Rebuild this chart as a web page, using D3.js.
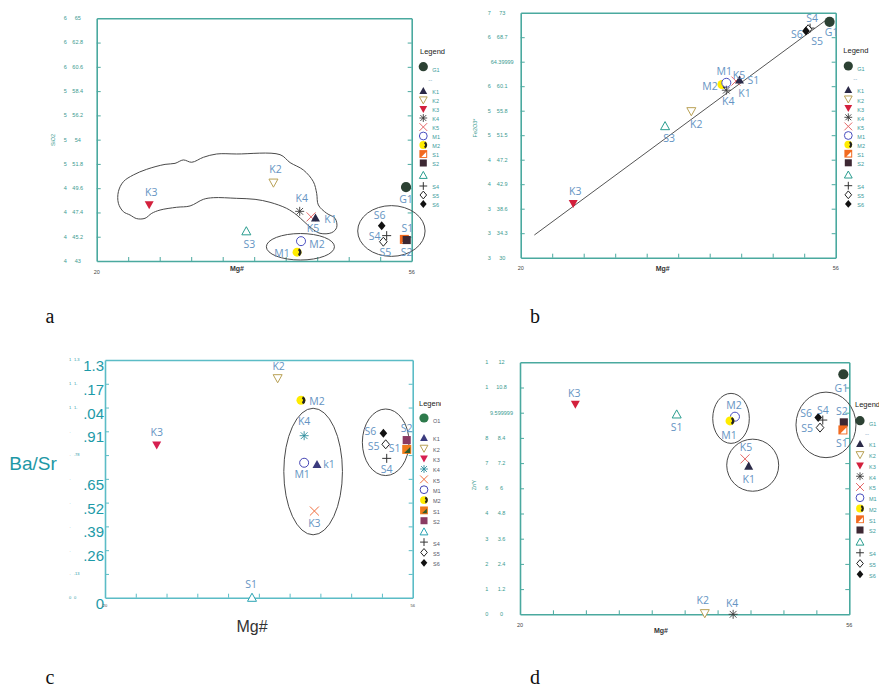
<!DOCTYPE html>
<html><head><meta charset="utf-8">
<script src="https://cdn.jsdelivr.net/npm/d3@7"></script>
<style>body{margin:0;background:#fff;} svg{display:block;}</style>
</head><body>
<svg id="chart" width="879" height="688"></svg>
<script>
// ---------------- DATA ----------------
const legendSymbols = ["K1","K2","K3","K4","K5","M1","M2","S1","S2","S3","S4","S5","S6"];
const legendLabels  = ["K1","K2","K3","K4","K5","M1","M2","S1","S2","","S4","S5","S6"];
const mgTicks = [20,23.6,27.2,30.8,34.4,38,41.6,45.2,48.8,52.4,56];
const mgTickLabels = ["20","56"];

// panel a: SiO2 vs Mg#
const sio2Ticks = [43,45.2,47.4,49.6,51.8,54,56.2,58.4,60.6,62.8,65];
const sio2TickLabels = ["43","45.2","47.4","49.6","51.8","54","56.2","58.4","60.6","62.8","65"];
const sio2TickPrefix = ["4","4","4","4","5","5","5","5","6","6","6"];
// [symbol, Mg#, SiO2, label]
const sio2Points = [
  ["K3",26.0,48.1,"K3"],["K2",40.2,50.1,"K2"],["K4",43.2,47.5,"K4"],["K5",44.5,47.0,"K5"],
  ["K1",45.0,46.9,"K1"],["S3",37.1,45.7,"S3"],["M1",43.35,44.8,"M2"],["M2",42.9,43.8,"M1"],
  ["G1",55.35,49.7,"G1"],["S6",52.57,46.2,"S6"],["S4",53.14,45.3,"S4"],["S5",52.76,44.75,"S5"],
  ["S1",55.16,44.96,"S1"],["S2",55.43,44.9,"S2"]
];
const sio2Blob = [
  [22.48,49.29],[23.05,50.19],[24.19,50.80],[25.71,51.31],[27.81,51.76],[28.95,51.85],[29.90,52.16],
  [30.86,51.95],[32.19,52.40],[33.71,52.70],[36.0,52.70],[40.95,52.64],[42.10,51.92],[43.62,51.25],
  [44.76,50.19],[45.14,49.13],[45.33,48.08],[46.29,47.32],[47.24,46.87],[47.43,46.05],[46.86,45.57],
  [45.52,45.51],[44.57,45.96],[43.70,46.57],[42.86,47.17],[41.71,47.77],[39.81,48.32],[38.10,48.59],
  [36.0,48.68],[33.33,48.74],[32.19,48.59],[30.67,47.99],[29.14,47.87],[27.24,47.62],[26.29,47.32],
  [25.52,46.87],[24.57,46.84],[23.81,47.17],[23.05,47.47],[22.48,48.23]
];
// [cx, cy, rx, ry] in data units
const sio2Ellipses = [[43.28,44.29,3.89,1.2],[53.68,45.72,3.85,2.3]];

// panel b: Fe2O3* vs Mg#
const feTicks = [30,34.3,38.6,42.9,47.2,51.5,55.8,60.1,64.39999,68.7,73];
const feTickLabels = ["30","34.3","38.6","42.9","47.2","51.5","55.8","60.1","64.39999","68.7","73"];
const feTickPrefix = ["3","3","3","4","4","5","5","6","","6","7"];
const fePoints = [
  ["K3",26.0,39.5,"K3"],["S3",36.5,53.1,"S3"],["K2",39.5,55.7,"K2"],["M2",43.0,60.4,"M2"],
  ["M1",43.5,60.7,"M1"],["K4",43.5,59.4,"K4"],["K5",44.6,61.0,"K5"],["K1",45.0,61.2,"K1"],
  ["",45.0,61.2,"S1"],["S4",53.07,70.3,"S4"],["S5",52.85,70.1,"S5"],["S6",52.6,69.8,"S6"],
  ["G1",55.3,71.4,"G1"]
];
const feTrend = [[21.56,33.98],[55.16,72.0]];

// panel c: Ba/Sr vs Mg#
const basrTicks = [0,0.13,0.26,0.39,0.52,0.65,0.78,0.91,1.04,1.17,1.3];
const basrBigLabels = ["0","",".26",".39",".52",".65","",".91",".04",".17","1.3"];
const basrSmallLabels = ["0",".13","","","","",".78","","1.","1.","1.3"];
const basrTickPrefix = ["0",".",".",".",".",".",".",".","1","1","1"];
const basrPoints = [
  ["K3",26.05,0.835,"K3"],["K2",40.2,1.20,"K2"],["M2",42.93,1.08,"M2"],["K4",43.3,0.886,"K4"],
  ["M1",43.3,0.738,"M1"],["K1",44.8,0.729,"k1"],["K5",44.5,0.474,"K3"],["S3",37.2,0.0,"S1"],
  ["S6",52.57,0.899,"S6"],["S5",52.84,0.839,"S5"],["S4",52.96,0.762,"S4"],["S1",55.3,0.811,"S1"],
  ["S2",55.3,0.862,"S2"]
];
const basrEllipses = [[44.35,0.69,3.43,0.346],[52.84,0.85,2.73,0.182]];

// panel d: Zr/Y vs Mg#
const zryTicks = [0,1.2,2.4,3.6,4.8,6,7.2,8.4,9.599999,10.8,12];
const zryTickLabels = ["0","1.2","2.4","3.6","4.8","6","7.2","8.4","9.599999","10.8","12"];
const zryTickPrefix = ["0","1","2","3","4","6","7","8","","1","1"];
const zryPoints = [
  ["K3",26.05,10.0,"K3"],["S3",37.13,9.52,"S1"],["M1",43.5,9.41,"M2"],["M2",42.96,9.21,"M1"],
  ["K5",44.6,7.40,"K5"],["K1",45.0,7.06,"K1"],["K2",40.2,0.05,"K2"],["K4",43.3,0.0,"K4"],
  ["G1",55.35,11.43,"G1"],["S6",52.6,9.37,"S6"],["S4",53.1,9.25,"S4"],["S5",52.8,8.89,"S5"],
  ["S2",55.4,9.14,"S2"],["S1",55.3,8.78,"S1"]
];
const zryEllipses = [[43.07,9.33,2.0,1.19],[45.44,7.10,2.84,1.24],[53.45,9.02,3.28,1.56]];

// ---------------- LAYOUT / STYLE ----------------
const labelOffsetsA = [[2,-12],[2,-13],[2,-13],[2,11],[15,1],[3,13],[16,3],[-15,1],[0,12],[-2,-10],[-12,1],[2,11],[3,-11],[0,12]];
const labelOffsetsB = [[2,-12],[4,12],[5,13],[-12,2],[-2,-11],[2,11],[3,-6],[5,13],[14,0],[2,-10],[9,12],[-9,3],[2,11]];
const labelOffsetsC = [[0,-13],[1,-12],[16,1],[0,-14],[-2,12],[12,0],[0,12],[-1,-13],[-13,-1.5],[-12,2],[0,11],[-12,-1],[0,-12]];
const labelOffsetsD = [[-1,-11],[0,13],[-1,-11],[-1,14],[1,-12],[0,13],[-2,-13],[-1,-11],[-2,14],[-12,-4],[0,-10],[-13,1],[-2,-11],[-1,13]];

const palMain = {G1:"#2c4133",K1:"#2b2a48",K2:"#b9a155",K3:"#d3203c",K4:"#3a3a3a",K5:"#e56868",
  M1:"#4a4fc0",M2:"#ffec00",M2d:"#222",S1:"#f26a1f",S1t:"#ffffff",S2:"#3d2833",S3:"#2a9d8f",S4:"#333",S5:"#222",S6:"#111"};
const palC = Object.assign({}, palMain, {G1:"#2d7a4b",K1:"#3b3b7e",K3:"#d61f50",K4:"#2b8c9c",K5:"#ef6e3e",
  M1:"#4444b4",S1:"#f07a1a",S1t:"#2f5a2a",S2:"#8a3a62",S3:"#2aa3b3"});

const LABEL_COLOR = "#6594c3";
const svg = d3.select("#chart");

function drawMarker(g, sym, cx, cy, s, pal) {
  const h = s / 2;
  const sw = 1;
  switch (sym) {
    case "G1":
      g.append("circle").attr("cx", cx).attr("cy", cy).attr("r", h + 0.6).attr("fill", pal.G1); break;
    case "K1":
      g.append("path").attr("d", `M${cx},${cy - h}L${cx + h},${cy + h * 0.8}L${cx - h},${cy + h * 0.8}Z`).attr("fill", pal.K1); break;
    case "K2":
      g.append("path").attr("d", `M${cx - h},${cy - h * 0.8}L${cx + h},${cy - h * 0.8}L${cx},${cy + h}Z`).attr("fill", "#fff").attr("stroke", pal.K2).attr("stroke-width", sw); break;
    case "K3":
      g.append("path").attr("d", `M${cx - h},${cy - h * 0.8}L${cx + h},${cy - h * 0.8}L${cx},${cy + h}Z`).attr("fill", pal.K3); break;
    case "K4": {
      const a = h * 0.75;
      g.append("path").attr("d", `M${cx},${cy - h}V${cy + h}M${cx - h},${cy}H${cx + h}M${cx - a},${cy - a}L${cx + a},${cy + a}M${cx - a},${cy + a}L${cx + a},${cy - a}`)
        .attr("stroke", pal.K4).attr("stroke-width", 0.9).attr("fill", "none"); break;
    }
    case "K5":
      g.append("path").attr("d", `M${cx - h},${cy - h}L${cx + h},${cy + h}M${cx - h},${cy + h}L${cx + h},${cy - h}`)
        .attr("stroke", pal.K5).attr("stroke-width", 1).attr("fill", "none"); break;
    case "M1":
      g.append("circle").attr("cx", cx).attr("cy", cy).attr("r", h).attr("fill", "#fff").attr("stroke", pal.M1).attr("stroke-width", sw); break;
    case "M2": {
      g.append("circle").attr("cx", cx).attr("cy", cy).attr("r", h).attr("fill", pal.M2);
      const arc = d3.arc().innerRadius(h * 0.45).outerRadius(h).startAngle(Math.PI * 0.15).endAngle(Math.PI * 0.85);
      g.append("path").attr("d", arc()).attr("transform", `translate(${cx},${cy})`).attr("fill", pal.M2d);
      break;
    }
    case "S1":
      g.append("rect").attr("x", cx - h).attr("y", cy - h).attr("width", s).attr("height", s).attr("fill", pal.S1);
      g.append("path").attr("d", `M${cx + h - 1},${cy - h + 2}L${cx + h - 1},${cy + h - 1}L${cx - h + 2},${cy + h - 1}Z`).attr("fill", pal.S1t);
      break;
    case "S2":
      g.append("rect").attr("x", cx - h * 0.9).attr("y", cy - h * 0.9).attr("width", s * 0.9).attr("height", s * 0.9).attr("fill", pal.S2); break;
    case "S3":
      g.append("path").attr("d", `M${cx},${cy - h}L${cx + h},${cy + h * 0.8}L${cx - h},${cy + h * 0.8}Z`).attr("fill", "#fff").attr("stroke", pal.S3).attr("stroke-width", sw); break;
    case "S4":
      g.append("path").attr("d", `M${cx},${cy - h}V${cy + h}M${cx - h},${cy}H${cx + h}`).attr("stroke", pal.S4).attr("stroke-width", 1).attr("fill", "none"); break;
    case "S5":
      g.append("path").attr("d", `M${cx},${cy - h}L${cx + h * 0.85},${cy}L${cx},${cy + h}L${cx - h * 0.85},${cy}Z`).attr("fill", "#fff").attr("stroke", pal.S5).attr("stroke-width", sw); break;
    case "S6":
      g.append("path").attr("d", `M${cx},${cy - h}L${cx + h * 0.85},${cy}L${cx},${cy + h}L${cx - h * 0.85},${cy}Z`).attr("fill", pal.S6); break;
  }
}

function drawPanel(cfg) {
  const g = svg.append("g");
  const x = d3.scaleLinear().domain([mgTicks[0], mgTicks[mgTicks.length - 1]]).range([cfg.x0, cfg.x1]);
  const y = d3.scaleLinear().domain([cfg.ticks[0], cfg.ticks[cfg.ticks.length - 1]]).range([cfg.y1, cfg.y0]);
  const ac = cfg.axisColor;

  const styleAxis = sel => {
    sel.select(".domain").attr("stroke", ac).attr("stroke-width", 1.6);
    sel.selectAll(".tick line").attr("stroke", ac).attr("stroke-width", 1);
    sel.selectAll(".tick text").remove();
  };
  g.append("g").attr("transform", `translate(${cfg.x0},0)`)
    .call(d3.axisLeft(y).tickValues(cfg.ticks.slice(1, -1)).tickSizeInner(-4).tickSizeOuter(0).tickFormat("")).call(styleAxis);
  g.append("g").attr("transform", `translate(${cfg.x1},0)`)
    .call(d3.axisRight(y).tickValues(cfg.ticks.slice(1, -1)).tickSizeInner(-4).tickSizeOuter(0).tickFormat("")).call(styleAxis);
  g.append("g").attr("transform", `translate(0,${cfg.y1})`)
    .call(d3.axisBottom(x).tickValues(mgTicks.slice(1, -1)).tickSizeInner(-4).tickSizeOuter(0).tickFormat("")).call(styleAxis);
  g.append("g").attr("transform", `translate(0,${cfg.y0})`)
    .call(d3.axisTop(x).tickValues([]).tickSizeOuter(0)).call(styleAxis);

  // small tick labels
  const tf = "Liberation Sans, Arial, sans-serif";
  cfg.ticks.forEach((t, i) => {
    if (cfg.prefix[i]) g.append("text").attr("x", cfg.x0 - cfg.prefixDx).attr("y", y(t)).attr("dy", "0.35em")
      .attr("text-anchor", "middle").attr("font-family", tf).attr("font-size", cfg.tickFont).attr("fill", cfg.tickColor).text(cfg.prefix[i]);
    if (cfg.tickLabels[i]) g.append("text").attr("x", cfg.x0 - cfg.labelDx).attr("y", y(t)).attr("dy", "0.35em")
      .attr("text-anchor", cfg.labelAnchor || "middle").attr("font-family", tf).attr("font-size", cfg.tickFont).attr("fill", cfg.tickColor).text(cfg.tickLabels[i]);
  });
  if (cfg.bigLabels) {
    cfg.ticks.forEach((t, i) => {
      if (!cfg.bigLabels[i]) return;
      g.append("text").attr("x", cfg.x0 - 1).attr("y", y(t) + 11).attr("text-anchor", "end")
        .attr("font-family", tf).attr("font-size", 15).attr("fill", "#1d9aa8").text(cfg.bigLabels[i]);
    });
  }
  // x tick labels (only ends)
  [mgTicks[0], mgTicks[mgTicks.length - 1]].forEach((t, i) => {
    g.append("text").attr("x", x(t)).attr("y", cfg.y1 + cfg.xLabelDy).attr("text-anchor", "middle")
      .attr("font-family", tf).attr("font-size", cfg.xTickFont).attr("fill", "#444").text(mgTickLabels[i]);
  });
  // axis titles
  g.append("text").attr("x", cfg.xTitle[0]).attr("y", cfg.xTitle[1]).attr("text-anchor", "middle")
    .attr("font-family", tf).attr("font-size", cfg.xTitle[2]).attr("font-weight", cfg.xTitle[3] || "normal").attr("fill", "#333").text("Mg#");
  if (cfg.yTitleRot) {
    g.append("text").attr("transform", `translate(${cfg.yTitleRot[0]},${cfg.yTitleRot[1]}) rotate(-90)`)
      .attr("text-anchor", "middle").attr("dy", "0.35em").attr("font-family", tf).attr("font-size", 5.5)
      .attr("fill", cfg.tickColor).text(cfg.yTitle);
  }

  // annotation shapes
  const sh = g.append("g").attr("fill", "none").attr("stroke", "#4a4a4a").attr("stroke-width", 1);
  if (cfg.blob) {
    sh.append("path").attr("d", d3.line().x(d => x(d[0])).y(d => y(d[1])).curve(d3.curveCatmullRomClosed.alpha(0.5))(cfg.blob));
  }
  (cfg.ellipses || []).forEach(e => {
    sh.append("ellipse").attr("cx", x(e[0])).attr("cy", y(e[1]))
      .attr("rx", x(e[0] + e[2]) - x(e[0])).attr("ry", y(e[1]) - y(e[1] + e[3]));
  });
  if (cfg.trend) {
    sh.append("path").attr("stroke", "#555").attr("d", d3.line().x(d => x(d[0])).y(d => y(d[1]))(cfg.trend));
  }

  // points
  const pg = g.append("g");
  cfg.points.forEach(p => { if (p[0]) drawMarker(pg, p[0], x(p[1]), y(p[2]), cfg.ms, cfg.pal); });
  const lg = g.append("g");
  cfg.points.forEach((p, i) => {
    const o = cfg.offsets[i];
    lg.append("text").attr("x", x(p[1]) + o[0]).attr("y", y(p[2]) + o[1]).attr("dy", "0.35em")
      .attr("text-anchor", "middle").attr("font-family", "Open Sans, sans-serif").attr("font-size", 10.5)
      .attr("fill", LABEL_COLOR).text(p[3]);
  });

  // legend
  const L = cfg.legend;
  const leg = g.append("g");
  if (L.clip) {
    const id = "clip" + Math.round(L.mx);
    svg.append("clipPath").attr("id", id).append("rect").attr("x", 0).attr("y", 0).attr("width", L.clip).attr("height", 688);
    leg.attr("clip-path", `url(#${id})`);
  }
  leg.append("text").attr("x", L.tx).attr("y", L.ty).attr("dy", "0.35em").attr("font-family", tf)
    .attr("font-size", 7.5).attr("fill", "#222").text("Legend");
  drawMarker(leg, "G1", L.mx, L.g1y, 8, cfg.pal);
  leg.append("text").attr("x", L.mx + 9).attr("y", L.g1y + 3).attr("dy", "0.35em").attr("font-family", tf)
    .attr("font-size", 5.5).attr("fill", L.textColor).text(L.g1Text);
  if (L.dash) leg.append("text").attr("x", L.mx + 5).attr("y", L.g1y + 15).attr("font-family", tf)
    .attr("font-size", 6).attr("fill", "#7aa0c0").text("--");
  legendSymbols.forEach((s, i) => {
    const yy = L.k1y + i * L.step + (i >= 9 ? L.gap1 : 0) + (i >= 10 ? L.gap2 : 0);
    drawMarker(leg, s, L.mx, yy, 7.8, cfg.pal);
    if (legendLabels[i]) leg.append("text").attr("x", L.mx + 9).attr("y", yy + 1.5).attr("dy", "0.35em").attr("font-family", tf)
      .attr("font-size", 5.5).attr("fill", L.textColor).text(legendLabels[i]);
  });
}

const axisTeal = "#4aa99f";
const tickTeal = "#3a9a8f";

drawPanel({
  x0: 96.7, x1: 411.7, y0: 18.3, y1: 261, ticks: sio2Ticks, tickLabels: sio2TickLabels, prefix: sio2TickPrefix,
  prefixDx: 31.5, labelDx: 19, tickFont: 5.5, tickColor: tickTeal, axisColor: axisTeal,
  xLabelDy: 13, xTickFont: 5.5, xTitle: [237, 271, 7, "bold"], yTitle: "SiO2", yTitleRot: [52.7, 140],
  points: sio2Points, offsets: labelOffsetsA, blob: sio2Blob, ellipses: sio2Ellipses, ms: 9, pal: palMain,
  legend: {tx: 420, ty: 51.7, mx: 423.3, g1y: 66.7, g1Text: "G1", dash: true, k1y: 91, step: 9, gap1: 3.3, gap2: 1.7, textColor: "#3a9a9a"}
});
drawPanel({
  x0: 520.7, x1: 835.7, y0: 12.7, y1: 257.7, ticks: feTicks, tickLabels: feTickLabels, prefix: feTickPrefix,
  prefixDx: 31.5, labelDx: 18.5, tickFont: 5.5, tickColor: tickTeal, axisColor: axisTeal,
  xLabelDy: 12, xTickFont: 5.5, xTitle: [662.7, 271, 7, "bold"], yTitle: "Fe2O3*", yTitleRot: [475, 128],
  points: fePoints, offsets: labelOffsetsB, trend: feTrend, ms: 9, pal: palMain,
  legend: {tx: 843.3, ty: 50.7, mx: 848.3, g1y: 66, g1Text: "G1", dash: true, k1y: 90, step: 9.1, gap1: 3.0, gap2: 1.7, textColor: "#3a9a9a"}
});
drawPanel({
  x0: 105, x1: 412.7, y0: 360, y1: 597.7, ticks: basrTicks, tickLabels: basrSmallLabels, prefix: basrTickPrefix,
  bigLabels: basrBigLabels, prefixDx: 35, labelDx: 31, labelAnchor: "start", tickFont: 4, tickColor: "#2e9aa6", axisColor: "#5bbcc6",
  xLabelDy: 9, xTickFont: 4, xTitle: [252, 632, 16],
  points: basrPoints, offsets: labelOffsetsC, ellipses: basrEllipses, ms: 9, pal: palC,
  legend: {tx: 419, ty: 403, mx: 424, g1y: 418, g1Text: "O1", dash: false, k1y: 438, step: 10.34, gap1: 0.7, gap2: 0, textColor: "#556", clip: 441}
});
drawPanel({
  x0: 520, x1: 849.3, y0: 362.3, y1: 614.3, ticks: zryTicks, tickLabels: zryTickLabels, prefix: zryTickPrefix,
  prefixDx: 33.3, labelDx: 18.5, tickFont: 5.5, tickColor: tickTeal, axisColor: axisTeal,
  xLabelDy: 13, xTickFont: 5.5, xTitle: [661, 633, 7, "bold"], yTitle: "Zr/Y", yTitleRot: [474, 485],
  points: zryPoints, offsets: labelOffsetsD, ellipses: zryEllipses, ms: 9, pal: palMain,
  legend: {tx: 855, ty: 404, mx: 860, g1y: 420.7, g1Text: "G1", dash: true, k1y: 444, step: 10.75, gap1: 1.25, gap2: 0, textColor: "#3a9a9a"}
});

// Ba/Sr big axis title
svg.append("text").attr("x", 33).attr("y", 470).attr("text-anchor", "middle")
  .attr("font-family", "Liberation Sans, Arial, sans-serif").attr("font-size", 19).attr("fill", "#1d98a6").text("Ba/Sr");

// panel letters
[["a", 50, 323], ["b", 535, 323], ["c", 50, 684], ["d", 535, 684]].forEach(l => {
  svg.append("text").attr("x", l[1]).attr("y", l[2]).attr("text-anchor", "middle")
    .attr("font-family", "Liberation Serif, serif").attr("font-size", 20).attr("fill", "#111").text(l[0]);
});
</script>
</body></html>
